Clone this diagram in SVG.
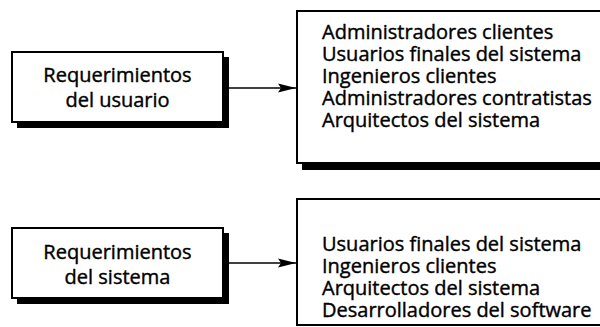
<svg xmlns="http://www.w3.org/2000/svg" width="600" height="327" viewBox="0 0 600 327">
<defs>
<style>
.shadow{fill:#000}
.box{fill:#fff;stroke:#000;stroke-width:2}
.t{font-family:"Open Sans","Noto Sans","Liberation Sans",sans-serif;font-size:20px;fill:#000;stroke:#000;stroke-width:0.4}
.c{text-anchor:middle}
.conn{stroke:#000;stroke-width:1.6;fill:none}
</style>
<marker id="arr" markerWidth="18" markerHeight="10" refX="18" refY="5" orient="auto" markerUnits="userSpaceOnUse">
<path d="M0,0.5 L18,5 L0,9.5 L3,5 Z" fill="#000"/>
</marker>
</defs>
<rect width="600" height="327" fill="#fff"/>
<g id="connectors">
<line class="conn" x1="228" y1="88" x2="296" y2="88" marker-end="url(#arr)"/>
<line class="conn" x1="228" y1="263" x2="296" y2="263" marker-end="url(#arr)"/>
</g>
<g id="req-usuario">
<rect class="shadow" x="17" y="57" width="212" height="71"/>
<rect class="box" x="12" y="52" width="211" height="70"/>
<text class="t c" x="117.5" y="82">Requerimientos</text>
<text class="t c" x="117.5" y="107">del usuario</text>
</g>
<g id="lista-usuario">
<rect class="shadow" x="302" y="16" width="310" height="154"/>
<rect class="box" x="297" y="11" width="310" height="152"/>
<text class="t" x="322" y="39">Administradores clientes</text>
<text class="t" x="322" y="61">Usuarios finales del sistema</text>
<text class="t" x="322" y="83">Ingenieros clientes</text>
<text class="t" x="322" y="105">Administradores contratistas</text>
<text class="t" x="322" y="127">Arquitectos del sistema</text>
</g>
<g id="req-sistema">
<rect class="shadow" x="17" y="233" width="212" height="71"/>
<rect class="box" x="12" y="228" width="211" height="70"/>
<text class="t c" x="117.5" y="259">Requerimientos</text>
<text class="t c" x="117.5" y="284">del sistema</text>
</g>
<g id="lista-sistema">
<rect class="box" x="297" y="199" width="310" height="126"/>
<text class="t" x="322" y="251">Usuarios finales del sistema</text>
<text class="t" x="322" y="273">Ingenieros clientes</text>
<text class="t" x="322" y="295">Arquitectos del sistema</text>
<text class="t" x="322" y="317">Desarrolladores del software</text>
</g>
</svg>
